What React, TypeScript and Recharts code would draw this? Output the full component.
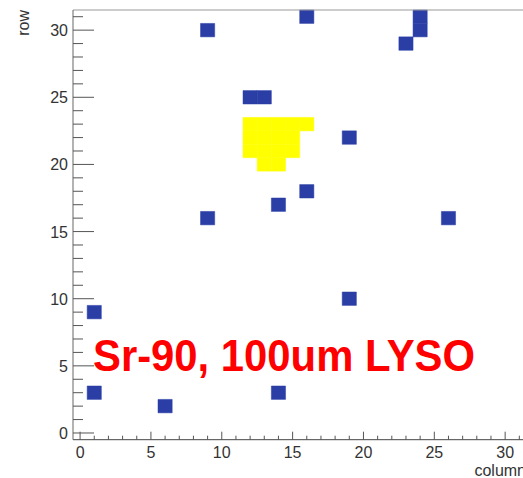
import React from 'react';
import { ScatterChart, Scatter, XAxis, YAxis, ReferenceArea, ReferenceLine } from 'recharts';

// Occupied pixels (column, row) with a single hit -> blue
const blueCols = [1, 6, 14, 1, 19, 9, 14, 16, 26, 19, 12, 13, 9, 16, 23, 24, 24];
const blueRows = [3, 2, 3, 9, 10, 16, 17, 18, 16, 22, 25, 25, 30, 31, 29, 30, 31];

// Beam-spot cluster -> yellow
const yellowCols = [12, 13, 14, 15, 16, 12, 13, 14, 15, 12, 13, 14, 15, 13, 14];
const yellowRows = [23, 23, 23, 23, 23, 22, 22, 22, 22, 21, 21, 21, 21, 20, 20];

const xTicks = [0, 1, 2, 3, 4, 5, 6, 7, 8, 9, 10, 11, 12, 13, 14, 15, 16, 17, 18, 19, 20, 21, 22, 23, 24, 25, 26, 27, 28, 29, 30, 31];
const yTicks = [0, 1, 2, 3, 4, 5, 6, 7, 8, 9, 10, 11, 12, 13, 14, 15, 16, 17, 18, 19, 20, 21, 22, 23, 24, 25, 26, 27, 28, 29, 30, 31];
const majorTicks = [0, 5, 10, 15, 20, 25, 30];

const axisMin = -0.5;
const axisMax = 31.5;

const blueCells = blueCols.map((c, i) => ({ col: c, row: blueRows[i] }));
const yellowCells = yellowCols.map((c, i) => ({ col: c, row: yellowRows[i] }));
const allCells = [...blueCells, ...yellowCells];

const FONT = '"Liberation Sans", Arial, Helvetica, sans-serif';
const BLUE = '#2a3ea6';
const YELLOW = '#ffff00';

const XTick = (props: any) => {
  const { x, y, payload } = props;
  const major = majorTicks.includes(payload.value);
  return (
    <g>
      <line x1={x} y1={y} x2={x} y2={y - (major ? 8 : 4)} stroke="#555" strokeWidth={1} />
      {major && (
        <text x={x} y={y + 18} textAnchor="middle" fontSize={16} fill="#333" fontFamily={FONT}>
          {payload.value}
        </text>
      )}
    </g>
  );
};

const YTick = (props: any) => {
  const { x, y, payload } = props;
  const major = majorTicks.includes(payload.value);
  return (
    <g>
      <line x1={x} y1={y} x2={x + (major ? 21 : 10)} y2={y} stroke="#555" strokeWidth={1} />
      {major && (
        <text x={x - 5} y={y + 6} textAnchor="end" fontSize={16} fill="#333" fontFamily={FONT}>
          {payload.value}
        </text>
      )}
    </g>
  );
};

export default function App() {
  return (
    <div
      style={{
        position: 'fixed',
        left: 0,
        top: 0,
        width: 523,
        height: 478,
        overflow: 'hidden',
        background: '#fff',
      }}
    >
      <div style={{ position: 'relative', width: 530, height: 478 }}>
        <ScatterChart width={530} height={478} margin={{ top: 10, right: 3.6, bottom: 0, left: 0 }}>
          <XAxis
            type="number"
            dataKey="col"
            domain={[axisMin, axisMax]}
            ticks={xTicks}
            interval={0}
            allowDataOverflow
            height={38.3}
            tickSize={0}
            tickMargin={0}
            tickLine={false}
            tick={<XTick />}
            axisLine={{ stroke: '#444', strokeWidth: 1 }}
          />
          <YAxis
            type="number"
            dataKey="row"
            domain={[axisMin, axisMax]}
            ticks={yTicks}
            interval={0}
            allowDataOverflow
            width={73}
            tickSize={0}
            tickMargin={0}
            tickLine={false}
            tick={<YTick />}
            axisLine={{ stroke: '#666', strokeWidth: 1 }}
          />
          <ReferenceLine y={axisMax} stroke="#999" strokeWidth={1} />
          <ReferenceLine x={axisMax} stroke="#999" strokeWidth={1} />
          {blueCells.map((c, i) => (
            <ReferenceArea
              key={'b' + i}
              x1={c.col - 0.5}
              x2={c.col + 0.5}
              y1={c.row - 0.5}
              y2={c.row + 0.5}
              fill={BLUE}
              fillOpacity={1}
              stroke={BLUE}
              strokeWidth={0.5}
              ifOverflow="visible"
            />
          ))}
          {yellowCells.map((c, i) => (
            <ReferenceArea
              key={'y' + i}
              x1={c.col - 0.5}
              x2={c.col + 0.5}
              y1={c.row - 0.5}
              y2={c.row + 0.5}
              fill={YELLOW}
              fillOpacity={1}
              stroke={YELLOW}
              strokeWidth={0.5}
              ifOverflow="visible"
            />
          ))}
          <Scatter data={allCells} isAnimationActive={false} shape={() => <g />} />
        </ScatterChart>
        <svg
          width={530}
          height={478}
          style={{ position: 'absolute', left: 0, top: 0, pointerEvents: 'none' }}
        >
          <text
            transform="translate(29,10) rotate(-90)"
            textAnchor="end"
            fontSize={16}
            fill="#333"
            fontFamily={FONT}
          >
            row
          </text>
          <text x={526} y={476} textAnchor="end" fontSize={16} fill="#333" fontFamily={FONT}>
            column
          </text>
          <text
            x={93}
            y={371}
            fontSize={44}
            fontWeight="bold"
            fill="#ff0000"
            fontFamily={FONT}
            textLength={382}
            lengthAdjust="spacingAndGlyphs"
          >
            Sr-90, 100um LYSO
          </text>
        </svg>
      </div>
    </div>
  );
}
